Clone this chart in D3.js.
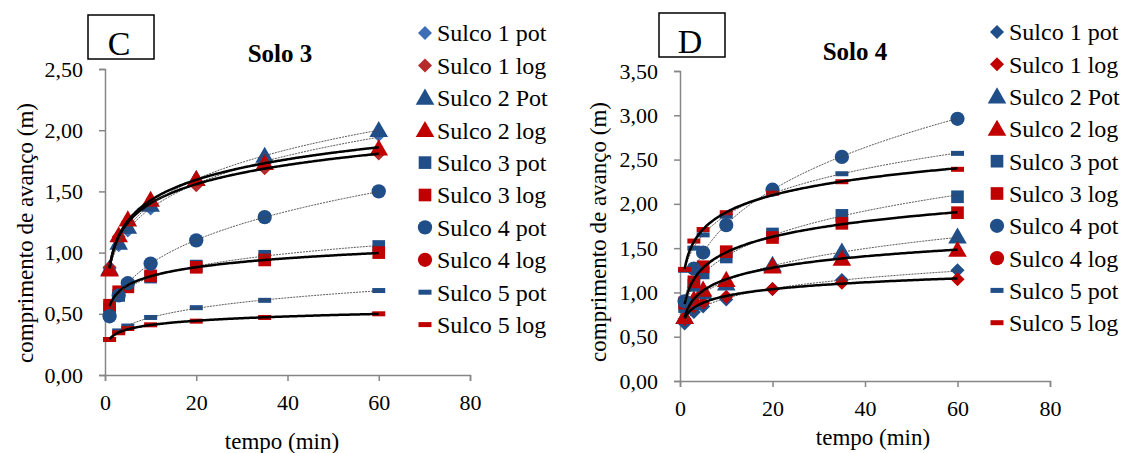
<!DOCTYPE html>
<html>
<head>
<meta charset="utf-8">
<script src="https://cdn.jsdelivr.net/npm/d3@7"></script>
<style>
  body { margin: 0; background: #fff; }
  text { font-family: "Liberation Serif", "Times New Roman", serif; }
</style>
</head>
<body>
<div id="chart"></div>
<script>
// tempo (min)
const tempo = [1, 3, 5, 10, 20, 35, 60];
const legendLabels = ["Sulco 1 pot", "Sulco 1 log", "Sulco 2 Pot", "Sulco 2 log", "Sulco 3 pot",
  "Sulco 3 log", "Sulco 4 pot", "Sulco 4 log", "Sulco 5 pot", "Sulco 5 log"];
const xTicks = [0, 20, 40, 60, 80];

// Solo 3 (m)
const s3Sulco1Pot = [0.87, 1.06, 1.18, 1.36, 1.57, 1.73, 1.96];
const s3Sulco1Log = [0.88, 1.13, 1.25, 1.40, 1.55, 1.69, 1.81];
const s3Sulco2Pot = [0.87, 1.08, 1.21, 1.39, 1.60, 1.79, 2.00];
const s3Sulco2Log = [0.86, 1.14, 1.27, 1.43, 1.60, 1.73, 1.85];
const s3Sulco3Pot = [0.55, 0.65, 0.73, 0.80, 0.89, 0.97, 1.05];
const s3Sulco3Log = [0.57, 0.68, 0.72, 0.81, 0.88, 0.94, 1.00];
const s3Sulco4Pot = [0.48, 0.65, 0.75, 0.91, 1.10, 1.29, 1.50];
const s3Sulco4Log = [];
const s3Sulco5Pot = [0.29, 0.36, 0.40, 0.47, 0.55, 0.61, 0.69];
const s3Sulco5Log = [0.29, 0.345, 0.38, 0.41, 0.44, 0.47, 0.50];

// Solo 4 (m)
const s4Sulco1Pot = [0.65, 0.78, 0.84, 0.92, 1.04, 1.14, 1.25];
const s4Sulco1Log = [0.70, 0.84, 0.88, 0.95, 1.04, 1.11, 1.15];
const s4Sulco2Pot = [0.72, 0.88, 1.00, 1.10, 1.31, 1.46, 1.63];
const s4Sulco2Log = [0.72, 0.92, 1.03, 1.14, 1.29, 1.38, 1.48];
const s4Sulco3Pot = [0.84, 1.08, 1.22, 1.40, 1.66, 1.87, 2.08];
const s4Sulco3Log = [0.88, 1.12, 1.29, 1.46, 1.62, 1.78, 1.90];
const s4Sulco4Pot = [0.90, 1.27, 1.45, 1.76, 2.16, 2.53, 2.96];
const s4Sulco4Log = [];
const s4Sulco5Pot = [1.25, 1.50, 1.65, 1.86, 2.14, 2.34, 2.57];
const s4Sulco5Log = [1.26, 1.58, 1.71, 1.90, 2.12, 2.25, 2.39];

const blue = "#1F4E88", red = "#C00000";
const blueLight = "#3D6DB5", redLight = "#B52A2A";
const axisColor = "#868686";
const serif = "Liberation Serif";

const width = 1121, height = 453;
const svg = d3.select("#chart").append("svg")
  .attr("width", width).attr("height", height)
  .attr("font-family", serif);

const fmt = v => d3.format(".2f")(v).replace(".", ",");

// least squares fits for the trend lines
function fitPower(xs, ys) {
  const lx = xs.map(Math.log), ly = ys.map(Math.log);
  const mx = d3.mean(lx), my = d3.mean(ly);
  const b = d3.sum(lx, (v, i) => (v - mx) * (ly[i] - my)) / d3.sum(lx, v => (v - mx) * (v - mx));
  const a = Math.exp(my - b * mx);
  return t => a * Math.pow(t, b);
}
function fitLog(xs, ys) {
  const lx = xs.map(Math.log);
  const mx = d3.mean(lx), my = d3.mean(ys);
  const a = d3.sum(lx, (v, i) => (v - mx) * (ys[i] - my)) / d3.sum(lx, v => (v - mx) * (v - mx));
  const b = my - a * mx;
  return t => a * Math.log(t) + b;
}

function drawMarker(g, shape, color, x, y) {
  if (shape == "dash") {
    g.append("rect").attr("x", x - 6.5).attr("y", y - 2.5).attr("width", 13).attr("height", 5)
      .attr("fill", color);
    return;
  }
  if (shape == "diamond") {
    g.append("path").attr("d", "M0,-7L7,0L0,7L-7,0Z")
      .attr("transform", "translate(" + x + "," + y + ")").attr("fill", color);
    return;
  }
  const types = { triangle: d3.symbolTriangle, square: d3.symbolSquare, circle: d3.symbolCircle };
  const sizes = { triangle: 150, square: 160, circle: 160 };
  g.append("path")
    .attr("d", d3.symbol().type(types[shape]).size(sizes[shape])())
    .attr("transform", "translate(" + x + "," + (shape == "triangle" ? y + 1.5 : y) + ")")
    .attr("fill", color);
}

function chart(cfg) {
  const x = d3.scaleLinear().domain([0, 80]).range(cfg.xRange);
  const y = d3.scaleLinear().domain([0, cfg.yMax]).range(cfg.yRange);
  const g = svg.append("g");

  // axes
  const yAxis = g.append("g").attr("transform", "translate(" + cfg.xRange[0] + ",0)")
    .call(d3.axisLeft(y).tickValues(d3.range(0, cfg.yMax + 0.001, 0.5)).tickSize(6).tickPadding(16).tickFormat(fmt));
  const xAxis = g.append("g").attr("transform", "translate(0," + cfg.yRange[0] + ")")
    .call(d3.axisBottom(x).tickValues(xTicks).tickSize(6).tickPadding(13));
  [yAxis, xAxis].forEach(a => {
    a.attr("font-family", serif).attr("font-size", 22);
    a.select(".domain").attr("stroke", axisColor).attr("stroke-width", 1.5);
    a.selectAll(".tick line").attr("stroke", axisColor).attr("stroke-width", 1.5);
    a.selectAll(".tick text").attr("fill", "#000");
  });

  // markers
  const marks = g.append("g");
  cfg.series.forEach(s => {
    s.values.forEach((v, i) => drawMarker(marks, s.shape, s.color, x(tempo[i]), y(v)));
  });

  // trend lines
  const line = d3.line().x(d => x(d[0])).y(d => y(d[1])).curve(d3.curveMonotoneX);
  const ts = d3.range(1, 60.01, 0.5);
  cfg.series.forEach(s => {
    if (!s.values.length) return;
    const f = s.fit == "pot" ? fitPower(tempo, s.values) : fitLog(tempo, s.values);
    g.append("path")
      .attr("d", line(ts.map(t => [t, f(t)])))
      .attr("fill", "none")
      .attr("stroke", s.fit == "pot" ? "#444" : "#000")
      .attr("stroke-width", s.fit == "pot" ? 0.9 : 2.5)
      .attr("stroke-dasharray", s.fit == "pot" ? "2,1" : null);
  });

  // titles
  g.append("text").attr("x", cfg.titleX).attr("y", cfg.titleY).attr("text-anchor", "middle")
    .attr("font-family", serif).attr("font-size", 25).attr("font-weight", "bold").text(cfg.title);
  g.append("text").attr("transform", "translate(" + cfg.yTitleX + "," + cfg.yTitleY + ") rotate(-90)")
    .attr("text-anchor", "middle").attr("dy", "0.35em")
    .attr("font-family", serif).attr("font-size", 23).text("comprimento de avanço (m)");
  g.append("text").attr("x", cfg.xTitleX).attr("y", cfg.xTitleY).attr("text-anchor", "middle")
    .attr("font-family", serif).attr("font-size", 23).text("tempo (min)");

  // letter box
  g.append("rect").attr("x", cfg.box[0]).attr("y", cfg.box[1]).attr("width", 66).attr("height", 44)
    .attr("fill", "#fff").attr("stroke", "#000").attr("stroke-width", 1.5);
  g.append("text").attr("x", cfg.box[0] + 31).attr("y", cfg.box[1] + 40).attr("text-anchor", "middle")
    .attr("font-family", serif).attr("font-size", 34).text(cfg.letter);

  // legend
  const leg = g.append("g");
  cfg.series.forEach((s, i) => {
    const ly = cfg.legendY + i * cfg.legendStep;
    drawMarker(leg, s.shape, s.color, cfg.legendX, ly);
    leg.append("text").attr("x", cfg.legendX + 12).attr("y", ly).attr("dy", "0.35em")
      .attr("font-family", serif).attr("font-size", 24).text(legendLabels[i]);
  });
}

const shapes = ["diamond", "diamond", "triangle", "triangle", "square", "square", "circle", "circle", "dash", "dash"];

chart({
  title: "Solo 3", letter: "C", yMax: 2.5,
  xRange: [105, 470], yRange: [375, 69],
  titleX: 280, titleY: 62, yTitleX: 25, yTitleY: 233, xTitleX: 282, xTitleY: 449,
  box: [88, 15], legendX: 425, legendY: 33, legendStep: 32.4,
  series: [s3Sulco1Pot, s3Sulco1Log, s3Sulco2Pot, s3Sulco2Log, s3Sulco3Pot,
    s3Sulco3Log, s3Sulco4Pot, s3Sulco4Log, s3Sulco5Pot, s3Sulco5Log].map((v, i) => ({
      values: v, shape: shapes[i], fit: i % 2 == 0 ? "pot" : "log",
      color: i < 2 ? (i == 0 ? blueLight : redLight) : (i % 2 == 0 ? blue : red)
    }))
});

chart({
  title: "Solo 4", letter: "D", yMax: 3.5,
  xRange: [680, 1050], yRange: [381, 71],
  titleX: 855, titleY: 60, yTitleX: 598, yTitleY: 232, xTitleX: 873, xTitleY: 445,
  box: [659, 13], legendX: 997, legendY: 32, legendStep: 32.3,
  series: [s4Sulco1Pot, s4Sulco1Log, s4Sulco2Pot, s4Sulco2Log, s4Sulco3Pot,
    s4Sulco3Log, s4Sulco4Pot, s4Sulco4Log, s4Sulco5Pot, s4Sulco5Log].map((v, i) => ({
      values: v, shape: shapes[i], fit: i % 2 == 0 ? "pot" : "log",
      color: i % 2 == 0 ? blue : red
    }))
});
</script>
</body>
</html>
